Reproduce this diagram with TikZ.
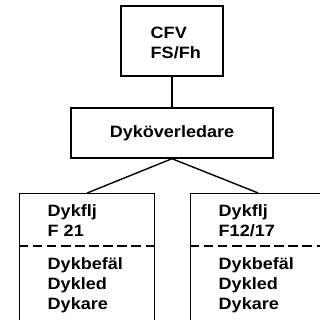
\documentclass[tikz,border=0pt]{standalone}
\usepackage{fontspec}
\setmainfont{Liberation Sans}[FakeStretch=1.1]
\begin{document}
\begin{tikzpicture}[x=0.3mm,y=-0.3mm,line width=1.2pt,
    orgbox/.style={draw,rectangle,inner sep=0pt},
    orgtext/.style={inner sep=0pt,align=left,anchor=north west,
        font=\fontsize{14}{17}\selectfont\bfseries}]
\useasboundingbox (0,0) rectangle (320,320);
\clip (0,0) rectangle (320,320);
% upper levels
\node[orgbox,minimum width=102*0.3mm,minimum height=70*0.3mm] (cfv) at (172,41) {};
\node[orgtext] (cfvtext) at (150,26) {CFV\\FS/Fh};
\node[orgbox,minimum width=202*0.3mm,minimum height=50*0.3mm,
    font=\fontsize{14}{17}\selectfont\bfseries] (dykol) at (172,133) {Dyköverledare};
% the two flotillas, cut off by the page
\node[orgbox,minimum width=135*0.3mm,minimum height=160*0.3mm,anchor=north west] (fltl) at (19,193) {};
\node[orgbox,minimum width=135*0.3mm,minimum height=160*0.3mm,anchor=north west] (fltr) at (190,193) {};
\draw[dash pattern=on 8pt off 4pt] (fltl.west |- 0,246) -- (fltl.east |- 0,246);
\draw[dash pattern=on 8pt off 4pt] (fltr.west |- 0,246) -- (fltr.east |- 0,246);
\node[orgtext] (headl) at (47,204) {Dykflj\\F 21};
\node[orgtext] (bodyl) at (47,257) {Dykbefäl\\Dykled\\Dykare};
\node[orgtext] (headr) at (218,204) {Dykflj\\F12/17};
\node[orgtext] (bodyr) at (218,257) {Dykbefäl\\Dykled\\Dykare};
% connectors
\draw (cfv.south) -- (dykol.north);
\draw (dykol.south) -- (fltl.north);
\draw (dykol.south) -- (fltr.north);
\end{tikzpicture}
\end{document}
